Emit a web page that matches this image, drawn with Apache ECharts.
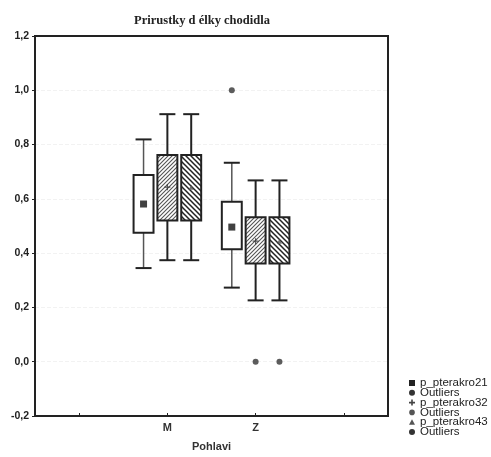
<!DOCTYPE html>
<html><head><meta charset="utf-8">
<script src="https://cdn.jsdelivr.net/npm/echarts@6/dist/echarts.min.js"></script>
<style>html,body{margin:0;padding:0;background:#fff}#c{width:491px;height:457px}</style>
</head><body><div id="c"></div>
<script>
const title = 'Prirustky d élky chodidla';
const xName = 'Pohlavi';
const categories = ['M', 'Z'];
const categoryPos = [1, 2];
const seriesNames = ['p_pterakro21', 'p_pterakro32', 'p_pterakro43'];
// [whisker low, q1, q3, whisker high] for M and Z
const box21 = [[0.345, 0.475, 0.688, 0.819], [0.273, 0.414, 0.589, 0.733]];
const box32 = [[0.374, 0.520, 0.762, 0.912], [0.226, 0.362, 0.532, 0.668]];
const box43 = [[0.374, 0.520, 0.762, 0.912], [0.226, 0.362, 0.532, 0.668]];
const mean21 = [0.581, 0.496];
const mean32 = [0.643, 0.444];
const mean43 = [0.643, 0.444];
const outliers21 = [[], [1.0]];
const outliers32 = [[], [0.0]];
const outliers43 = [[], [0.0]];
const yTicks = [-0.2, 0.0, 0.2, 0.4, 0.6, 0.8, 1.0, 1.2];
const legendLabels = ['p_pterakro21', 'Outliers', 'p_pterakro32', 'Outliers', 'p_pterakro43', 'Outliers'];

const offsets = [-0.27, 0, 0.27];

function hatch(dir, color, lw, s) {
  const c = document.createElement('canvas');
  c.width = s; c.height = s;
  const g = c.getContext('2d');
  g.fillStyle = '#fff'; g.fillRect(0, 0, s, s);
  g.strokeStyle = color; g.lineWidth = lw;
  g.beginPath();
  if (dir === '/') {
    g.moveTo(-1, s + 1); g.lineTo(s + 1, -1);
    g.moveTo(-1, 1); g.lineTo(1, -1);
    g.moveTo(s - 1, s + 1); g.lineTo(s + 1, s - 1);
  } else {
    g.moveTo(-1, -1); g.lineTo(s + 1, s + 1);
    g.moveTo(s - 1, -1); g.lineTo(s + 1, 1);
    g.moveTo(-1, s - 1); g.lineTo(1, s + 1);
  }
  g.stroke();
  return c;
}
const fills = [
  '#ffffff',
  { image: hatch('/', '#555', 1.1, 4), repeat: 'repeat' },
  { image: hatch('\\', '#222', 1.5, 5), repeat: 'repeat' }
];
const whiskerStyle = [
  { stroke: '#555', lineWidth: 1.5 },
  { stroke: '#222', lineWidth: 2 },
  { stroke: '#222', lineWidth: 2 }
];

function boxRender(idx) {
  return function (params, api) {
    const x = api.value(0) + offsets[idx];
    const lo = api.coord([x, api.value(1)]);
    const q1 = api.coord([x, api.value(2)]);
    const q3 = api.coord([x, api.value(3)]);
    const hi = api.coord([x, api.value(4)]);
    const cx = lo[0];
    const hw = api.size([0.113, 0])[0];
    const cap = 8;
    const ws = whiskerStyle[idx];
    return {
      type: 'group', children: [
        { type: 'line', shape: { x1: cx, y1: hi[1], x2: cx, y2: q3[1] }, style: ws },
        { type: 'line', shape: { x1: cx, y1: q1[1], x2: cx, y2: lo[1] }, style: ws },
        { type: 'line', shape: { x1: cx - cap, y1: hi[1], x2: cx + cap, y2: hi[1] }, style: { stroke: '#222', lineWidth: 2 } },
        { type: 'line', shape: { x1: cx - cap, y1: lo[1], x2: cx + cap, y2: lo[1] }, style: { stroke: '#222', lineWidth: 2 } },
        { type: 'rect', shape: { x: cx - hw, y: q3[1], width: 2 * hw, height: q1[1] - q3[1] },
          style: { fill: fills[idx], stroke: '#222', lineWidth: 2 } }
      ]
    };
  };
}

const boxes = [box21, box32, box43];
const means = [mean21, mean32, mean43];
const outs = [outliers21, outliers32, outliers43];
const meanSymbols = [
  { symbol: 'rect', size: 7, color: '#111' },
  { symbol: 'path://M4,0H6V4H10V6H6V10H4V6H0V4H4Z', size: 6, color: '#333' },
  { symbol: 'triangle', size: 5, color: '#555' }
];

const series = [];
boxes.forEach((b, i) => {
  series.push({
    type: 'custom', name: seriesNames[i], renderItem: boxRender(i),
    data: b.map((v, k) => [categoryPos[k], ...v]), z: 2
  });
  series.push({
    type: 'scatter', symbol: meanSymbols[i].symbol, symbolSize: meanSymbols[i].size,
    itemStyle: { color: meanSymbols[i].color }, z: 5,
    data: means[i].map((m, k) => [categoryPos[k] + offsets[i], m])
  });
  const od = [];
  outs[i].forEach((arr, k) => arr.forEach(v => od.push([categoryPos[k] + offsets[i], v])));
  series.push({
    type: 'scatter', name: 'Outliers', symbol: 'circle', symbolSize: 6,
    itemStyle: { color: '#333' }, data: od, z: 5
  });
});

const legendMarkers = [
  { type: 'rect', shape: { x: -3, y: -3, width: 6, height: 6 }, style: { fill: '#222' } },
  { type: 'circle', shape: { cx: 0, cy: 0, r: 3 }, style: { fill: '#333' } },
  { type: 'polygon', shape: { points: [[-0.8, -3], [0.8, -3], [0.8, -0.8], [3, -0.8], [3, 0.8], [0.8, 0.8], [0.8, 3], [-0.8, 3], [-0.8, 0.8], [-3, 0.8], [-3, -0.8], [-0.8, -0.8]] }, style: { fill: '#444' } },
  { type: 'circle', shape: { cx: 0, cy: 0, r: 2.8 }, style: { fill: '#555' } },
  { type: 'polygon', shape: { points: [[0, -3], [3, 2.5], [-3, 2.5]] }, style: { fill: '#555' } },
  { type: 'circle', shape: { cx: 0, cy: 0, r: 3 }, style: { fill: '#333' } }
];
const graphics = [];
legendLabels.forEach((t, i) => {
  const y = 383 + i * 9.8;
  const m = Object.assign({}, legendMarkers[i], { x: 412, y: y });
  graphics.push(m);
  graphics.push({ type: 'text', x: 420, y: y, style: { text: t, font: '11.5px "Liberation Sans", Arial, sans-serif', fill: '#222', textVerticalAlign: 'middle' } });
});

const chart = echarts.init(document.getElementById('c'));
chart.setOption({
  animation: false,
  backgroundColor: '#fff',
  title: {
    text: title, left: 197, top: 9, textAlign: 'center',
    textStyle: { fontFamily: '"Liberation Serif", "Times New Roman", serif', fontSize: 12.5, fontWeight: 'bold', color: '#222' }
  },
  grid: { left: 35, top: 36, right: 103, bottom: 35, show: true, borderColor: '#222', borderWidth: 2, backgroundColor: 'transparent', z: 10 },
  xAxis: {
    type: 'value', min: -0.5, max: 3.5,
    name: xName, nameLocation: 'middle', nameGap: 25,
    nameTextStyle: { fontFamily: '"Liberation Sans", Arial', fontSize: 11, fontWeight: 'bold', color: '#333' },
    axisLine: { show: true, onZero: false, lineStyle: { color: '#222', width: 2 } },
    axisTick: { show: true, customValues: [0, 1, 2, 3], length: 3, inside: true, lineStyle: { color: '#222' } },
    axisLabel: { customValues: categoryPos, formatter: v => categories[categoryPos.indexOf(v)] || '', margin: 6,
      fontFamily: '"Liberation Sans", Arial', fontSize: 11, fontWeight: 'bold', color: '#333' },
    splitLine: { show: false }
  },
  yAxis: {
    type: 'value', min: -0.2, max: 1.2, interval: 0.2,
    axisLine: { show: true, onZero: false, lineStyle: { color: '#222', width: 2 } },
    axisTick: { show: true, length: 3, lineStyle: { color: '#222' } },
    axisLabel: { formatter: v => v.toFixed(1).replace('.', ','), margin: 6,
      fontFamily: '"Liberation Sans", Arial', fontSize: 10.5, fontWeight: 'bold', color: '#222' },
    splitLine: { show: true, showMinLine: false, showMaxLine: false, lineStyle: { color: '#f2f2f2', type: 'dashed' } }
  },
  series: series,
  graphic: graphics
});
</script>
</body></html>
